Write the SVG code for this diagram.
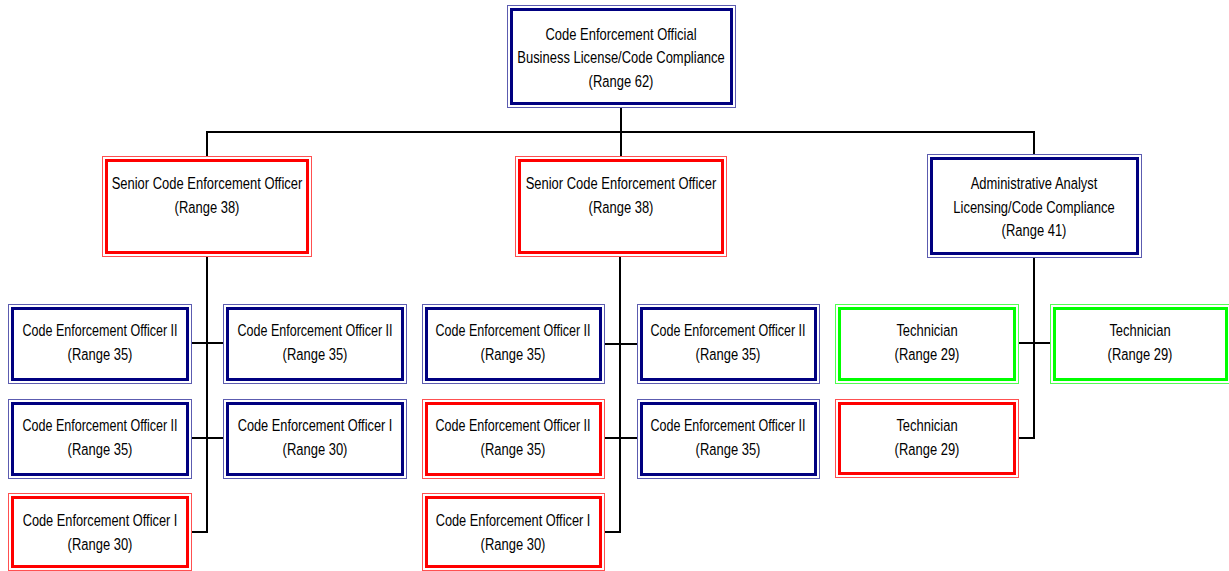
<svg xmlns="http://www.w3.org/2000/svg" width="1229" height="571" viewBox="0 0 1229 571">
<style>
  .o { fill: none; stroke-width: 1; }
  .i { fill: none; stroke-width: 3; }
  .navy .i { stroke: #000080; }
  .red .i { stroke: #ff0000; }
  .green .i { stroke: #00ff00; }
  .navy .o { stroke: #5c5cb0; }
  .red .o { stroke: #ff5050; }
  .green .o { stroke: #50ff50; }
  text { font-family: "Liberation Sans", Arial, sans-serif; font-size: 16.5px; fill: #000; text-anchor: middle; }
  .conn line { stroke: #000; stroke-width: 2; }
</style>
<rect x="0" y="0" width="1229" height="571" fill="#fff"/>
<g class="conn">
  <line x1="621" y1="107" x2="621" y2="156"/>
  <line x1="206" y1="132" x2="1035" y2="132"/>
  <line x1="207" y1="131" x2="207" y2="156"/>
  <line x1="1034" y1="131" x2="1034" y2="154"/>
  <line x1="207" y1="256" x2="207" y2="533"/>
  <line x1="191" y1="343" x2="223" y2="343"/>
  <line x1="191" y1="438" x2="223" y2="438"/>
  <line x1="191" y1="532" x2="208" y2="532"/>
  <line x1="620" y1="256" x2="620" y2="533"/>
  <line x1="604" y1="344" x2="637" y2="344"/>
  <line x1="604" y1="438" x2="637" y2="438"/>
  <line x1="604" y1="532" x2="621" y2="532"/>
  <line x1="1034" y1="257" x2="1034" y2="439"/>
  <line x1="1018" y1="343" x2="1050" y2="343"/>
  <line x1="1018" y1="438" x2="1035" y2="438"/>
</g>
<g id="n-top" class="navy">
  <rect class="o" x="507.5" y="5.5" width="228" height="102"/>
  <rect class="i" x="511.5" y="9.5" width="220" height="94"/>
  <text transform="translate(621,40) scale(0.786,1)">Code Enforcement Official</text>
  <text transform="translate(621,63) scale(0.786,1)">Business License/Code Compliance</text>
  <text transform="translate(621,87) scale(0.786,1)">(Range 62)</text>
</g>
<g id="n-senior1" class="red">
  <rect class="o" x="102.5" y="156.5" width="209" height="100"/>
  <rect class="i" x="106.5" y="160.5" width="201" height="92"/>
  <text transform="translate(207,189) scale(0.786,1)">Senior Code Enforcement Officer</text>
  <text transform="translate(207,213) scale(0.786,1)">(Range 38)</text>
</g>
<g id="n-senior2" class="red">
  <rect class="o" x="515.5" y="156.5" width="211" height="100"/>
  <rect class="i" x="519.5" y="160.5" width="203" height="92"/>
  <text transform="translate(621,189) scale(0.786,1)">Senior Code Enforcement Officer</text>
  <text transform="translate(621,213) scale(0.786,1)">(Range 38)</text>
</g>
<g id="n-admin" class="navy">
  <rect class="o" x="927.5" y="154.5" width="214" height="103"/>
  <rect class="i" x="931.5" y="158.5" width="206" height="95"/>
  <text transform="translate(1034,189) scale(0.786,1)">Administrative Analyst</text>
  <text transform="translate(1034,213) scale(0.786,1)">Licensing/Code Compliance</text>
  <text transform="translate(1034,236) scale(0.786,1)">(Range 41)</text>
</g>
<g id="n-l1a" class="navy">
  <rect class="o" x="8.5" y="304.5" width="183" height="79"/>
  <rect class="i" x="12.5" y="308.5" width="175" height="71"/>
  <text transform="translate(100,336) scale(0.76,1)">Code Enforcement Officer II</text>
  <text transform="translate(100,360) scale(0.786,1)">(Range 35)</text>
</g>
<g id="n-l1b" class="navy">
  <rect class="o" x="223.5" y="304.5" width="183" height="79"/>
  <rect class="i" x="227.5" y="308.5" width="175" height="71"/>
  <text transform="translate(315,336) scale(0.76,1)">Code Enforcement Officer II</text>
  <text transform="translate(315,360) scale(0.786,1)">(Range 35)</text>
</g>
<g id="n-l2a" class="navy">
  <rect class="o" x="8.5" y="399.5" width="183" height="79"/>
  <rect class="i" x="12.5" y="403.5" width="175" height="71"/>
  <text transform="translate(100,431) scale(0.76,1)">Code Enforcement Officer II</text>
  <text transform="translate(100,455) scale(0.786,1)">(Range 35)</text>
</g>
<g id="n-l2b" class="navy">
  <rect class="o" x="223.5" y="399.5" width="183" height="79"/>
  <rect class="i" x="227.5" y="403.5" width="175" height="71"/>
  <text transform="translate(315,431) scale(0.776,1)">Code Enforcement Officer I</text>
  <text transform="translate(315,455) scale(0.786,1)">(Range 30)</text>
</g>
<g id="n-l3a" class="red">
  <rect class="o" x="8.5" y="493.5" width="183" height="77"/>
  <rect class="i" x="12.5" y="497.5" width="175" height="69"/>
  <text transform="translate(100,526) scale(0.776,1)">Code Enforcement Officer I</text>
  <text transform="translate(100,550) scale(0.786,1)">(Range 30)</text>
</g>
<g id="n-m1a" class="navy">
  <rect class="o" x="422.5" y="304.5" width="182" height="79"/>
  <rect class="i" x="426.5" y="308.5" width="174" height="71"/>
  <text transform="translate(513,336) scale(0.76,1)">Code Enforcement Officer II</text>
  <text transform="translate(513,360) scale(0.786,1)">(Range 35)</text>
</g>
<g id="n-m1b" class="navy">
  <rect class="o" x="637.5" y="304.5" width="182" height="79"/>
  <rect class="i" x="641.5" y="308.5" width="174" height="71"/>
  <text transform="translate(728,336) scale(0.76,1)">Code Enforcement Officer II</text>
  <text transform="translate(728,360) scale(0.786,1)">(Range 35)</text>
</g>
<g id="n-m2a" class="red">
  <rect class="o" x="422.5" y="399.5" width="182" height="79"/>
  <rect class="i" x="426.5" y="403.5" width="174" height="71"/>
  <text transform="translate(513,431) scale(0.76,1)">Code Enforcement Officer II</text>
  <text transform="translate(513,455) scale(0.786,1)">(Range 35)</text>
</g>
<g id="n-m2b" class="navy">
  <rect class="o" x="637.5" y="399.5" width="182" height="79"/>
  <rect class="i" x="641.5" y="403.5" width="174" height="71"/>
  <text transform="translate(728,431) scale(0.76,1)">Code Enforcement Officer II</text>
  <text transform="translate(728,455) scale(0.786,1)">(Range 35)</text>
</g>
<g id="n-m3a" class="red">
  <rect class="o" x="422.5" y="493.5" width="182" height="77"/>
  <rect class="i" x="426.5" y="497.5" width="174" height="69"/>
  <text transform="translate(513,526) scale(0.776,1)">Code Enforcement Officer I</text>
  <text transform="translate(513,550) scale(0.786,1)">(Range 30)</text>
</g>
<g id="n-t1" class="green">
  <rect class="o" x="835.5" y="304.5" width="183" height="79"/>
  <rect class="i" x="839.5" y="308.5" width="175" height="71"/>
  <text transform="translate(927,336) scale(0.786,1)">Technician</text>
  <text transform="translate(927,360) scale(0.786,1)">(Range 29)</text>
</g>
<g id="n-t2" class="green">
  <rect class="o" x="1050.5" y="304.5" width="180" height="79"/>
  <rect class="i" x="1054.5" y="308.5" width="172" height="71"/>
  <text transform="translate(1140,336) scale(0.786,1)">Technician</text>
  <text transform="translate(1140,360) scale(0.786,1)">(Range 29)</text>
</g>
<g id="n-t3" class="red">
  <rect class="o" x="835.5" y="399.5" width="183" height="78"/>
  <rect class="i" x="839.5" y="403.5" width="175" height="70"/>
  <text transform="translate(927,431) scale(0.786,1)">Technician</text>
  <text transform="translate(927,455) scale(0.786,1)">(Range 29)</text>
</g>
</svg>
